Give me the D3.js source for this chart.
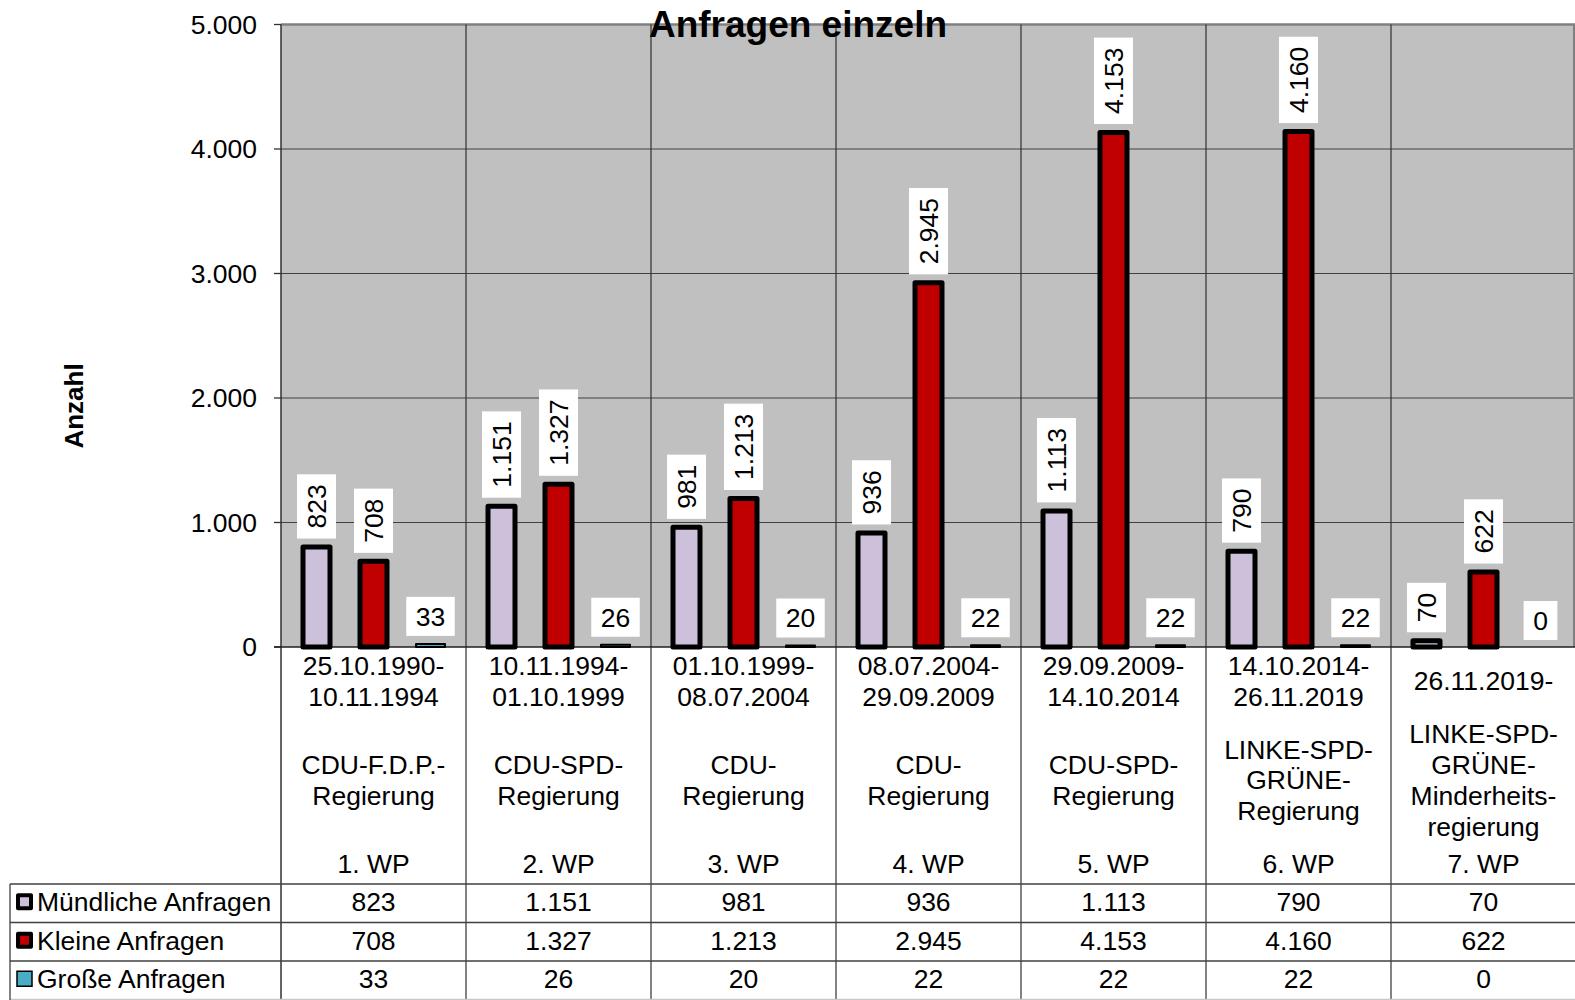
<!DOCTYPE html>
<html><head><meta charset="utf-8">
<script src="https://cdn.jsdelivr.net/npm/d3@7"></script>
<style>body{margin:0;background:#fff}svg{display:block}text{font-family:"Liberation Sans",Arial,sans-serif}</style>
</head><body><svg id="c" width="1575" height="1000"></svg>
<script>
const periods = ["1. WP","2. WP","3. WP","4. WP","5. WP","6. WP","7. WP"];
const dateLines = [["25.10.1990-","10.11.1994"],["10.11.1994-","01.10.1999"],["01.10.1999-","08.07.2004"],["08.07.2004-","29.09.2009"],["29.09.2009-","14.10.2014"],["14.10.2014-","26.11.2019"],["26.11.2019-"]];
const partyLines = [["CDU-F.D.P.-","Regierung"],["CDU-SPD-","Regierung"],["CDU-","Regierung"],["CDU-","Regierung"],["CDU-SPD-","Regierung"],["LINKE-SPD-","GRÜNE-","Regierung"],["LINKE-SPD-","GRÜNE-","Minderheits-","regierung"]];
const seriesNames = ["Mündliche Anfragen","Kleine Anfragen","Große Anfragen"];
const muendliche = [823,1151,981,936,1113,790,70];
const kleine = [708,1327,1213,2945,4153,4160,622];
const grosse = [33,26,20,22,22,22,0];
const yTicks = [0,1000,2000,3000,4000,5000];
const title = "Anfragen einzeln";
const yTitle = "Anzahl";

const seriesValues = [muendliche, kleine, grosse];
const colors = ["#ccc0da","#c00000","#4bacc6"];
const strokes = [5,5,2];
const FS = 26.5;

const loc = d3.formatLocale({decimal:",",thousands:".",grouping:[3],currency:["","€"]});
const fmt = loc.format(",d");

const svg = d3.select("#c");
const plotL = 281, plotT = 24.5, plotB = 647, groupW = 185;
const x = d3.scaleBand().domain(periods).range([plotL, plotL + groupW*7]).padding(0);
const y = d3.scaleLinear().domain([0,5000]).range([plotB, plotT]);
const xs = d3.scalePoint().domain(seriesNames).range([-57,57]);
const W = 1575;

svg.append("rect").attr("x",plotL).attr("y",plotT).attr("width",W-plotL).attr("height",plotB-plotT).attr("fill","#c0c0c0");
svg.selectAll(".grid").data(yTicks.filter(d=>d>0 && d<5000)).enter().append("line")
  .attr("x1",plotL).attr("x2",W).attr("y1",d=>y(d)).attr("y2",d=>y(d))
  .attr("stroke","#404040").attr("stroke-width",1.2);
svg.append("line").attr("x1",plotL).attr("x2",W).attr("y1",plotT).attr("y2",plotT).attr("stroke","#808080").attr("stroke-width",2.5);
svg.append("line").attr("x1",W-1).attr("x2",W-1).attr("y1",plotT).attr("y2",plotB).attr("stroke","#808080").attr("stroke-width",2);
svg.selectAll(".div").data(periods.slice(1)).enter().append("line")
  .attr("x1",d=>x(d)).attr("x2",d=>x(d)).attr("y1",plotT).attr("y2",1000)
  .attr("stroke","#303030").attr("stroke-width",1.2);
svg.append("line").attr("x1",plotL).attr("x2",plotL).attr("y1",plotT).attr("y2",1000).attr("stroke","#303030").attr("stroke-width",1.5);
svg.selectAll(".tick").data(yTicks).enter().append("line")
  .attr("x1",274).attr("x2",plotL).attr("y1",d=>y(d)).attr("y2",d=>y(d)).attr("stroke","#303030").attr("stroke-width",1.3);
svg.selectAll(".tl").data(yTicks).enter().append("text")
  .attr("x",257).attr("y",d=>y(d)+9.3).attr("text-anchor","end").attr("font-size",FS).text(d=>fmt(d));
svg.append("line").attr("x1",274).attr("x2",W).attr("y1",plotB).attr("y2",plotB).attr("stroke","#202020").attr("stroke-width",1.5);

const bw = [27,27,29];
seriesNames.forEach((s,si)=>{
  const vals = seriesValues[si];
  const g = svg.append("g");
  g.selectAll("rect").data(periods.map((p,i)=>({p,v:vals[i]})).filter(d=>d.v>0)).enter().append("rect")
    .attr("x",d=>x(d.p)+x.bandwidth()/2+xs(s)-bw[si]/2)
    .attr("y",d=>y(d.v)+strokes[si]/2)
    .attr("width",bw[si])
    .attr("height",d=>Math.max(0.5, plotB - y(d.v) - strokes[si]/2))
    .attr("fill",colors[si]).attr("stroke","#000").attr("stroke-width",strokes[si])
    .attr("stroke-linejoin","round");
});

seriesNames.forEach((s,si)=>{
  const vals = seriesValues[si];
  periods.forEach((p,i)=>{
    const v = vals[i];
    const cx = x(p)+x.bandwidth()/2+xs(s);
    const lg = svg.append("g");
    const box = lg.append("rect").attr("fill","#fff");
    const t = lg.append("text").attr("font-size",FS).attr("text-anchor","middle").text(fmt(v));
    const len = t.node().getComputedTextLength();
    if (si < 2) {
      const h = len + 20, w = 39;
      const bottom = y(v) - 6;
      const cy = bottom - h/2;
      box.attr("x",cx-w/2).attr("y",bottom-h).attr("width",w).attr("height",h);
      t.attr("transform",`translate(${cx+9.3},${cy}) rotate(-90)`);
    } else {
      const w = len + 19, h = 39;
      const bottom = y(v) - 7;
      box.attr("x",cx-w/2).attr("y",bottom-h).attr("width",w).attr("height",h);
      t.attr("x",cx).attr("y",bottom-h/2+9.3);
    }
  });
});

const lh = 30.8;
periods.forEach((p,i)=>{
  const cx = x(p)+x.bandwidth()/2;
  const dl = dateLines[i];
  dl.forEach((l,k)=>{
    const c = 681 + (k-(dl.length-1)/2)*lh;
    svg.append("text").attr("x",cx).attr("y",c+9.3).attr("text-anchor","middle").attr("font-size",FS).text(l);
  });
  const pl = partyLines[i];
  pl.forEach((l,k)=>{
    const c = 780 + (k-(pl.length-1)/2)*lh;
    svg.append("text").attr("x",cx).attr("y",c+9.3).attr("text-anchor","middle").attr("font-size",FS).text(l);
  });
  svg.append("text").attr("x",cx).attr("y",863.5+9.3).attr("text-anchor","middle").attr("font-size",FS).text(p);
});

const rowT = [884, 922.5, 961, 999.5];
rowT.forEach((ry,k)=>{
  svg.append("line").attr("x1",10).attr("x2",W).attr("y1",ry).attr("y2",ry)
    .attr("stroke", k===3 ? "#c8c8c8" : "#404040").attr("stroke-width",1.3);
});
svg.append("line").attr("x1",10).attr("x2",10).attr("y1",884).attr("y2",1000).attr("stroke","#404040").attr("stroke-width",1.3);
seriesNames.forEach((s,si)=>{
  const cy = (rowT[si]+rowT[si+1])/2 - 1.5;
  if (si<2) {
    svg.append("rect").attr("x",18).attr("y",cy-6.5).attr("width",13).attr("height",13)
      .attr("fill",colors[si]).attr("stroke","#000").attr("stroke-width",4).attr("stroke-linejoin","round");
  } else {
    svg.append("rect").attr("x",17).attr("y",cy-7.5).attr("width",15).attr("height",15)
      .attr("fill",colors[si]).attr("stroke","#000").attr("stroke-width",1.5);
  }
  svg.append("text").attr("x",37).attr("y",cy+9.3).attr("font-size",FS).text(s);
  periods.forEach((p,i)=>{
    svg.append("text").attr("x",x(p)+x.bandwidth()/2).attr("y",cy+9.3).attr("text-anchor","middle").attr("font-size",FS).text(fmt(seriesValues[si][i]));
  });
});

svg.append("text").attr("transform","translate(83,406) rotate(-90)").attr("text-anchor","middle")
  .attr("font-size",26).attr("font-weight","bold").text(yTitle);
svg.append("text").attr("x",798).attr("y",37).attr("text-anchor","middle")
  .attr("font-size",37).attr("font-weight","bold").text(title);
</script></body></html>
